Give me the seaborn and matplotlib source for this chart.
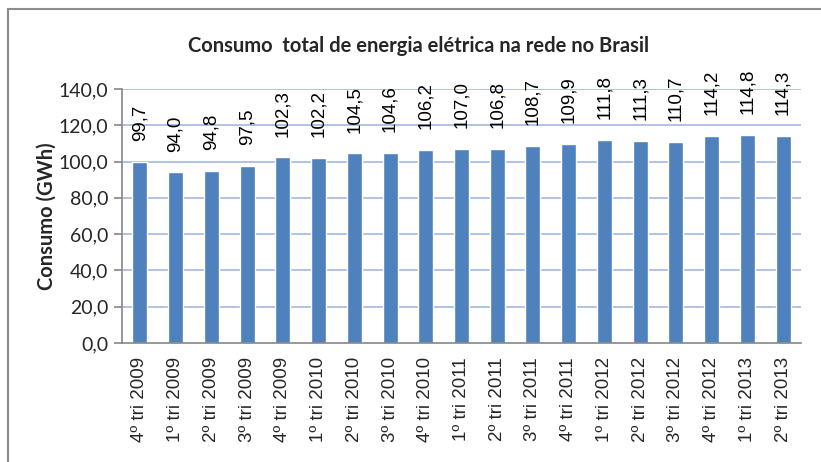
import matplotlib
matplotlib.use("Agg")
import matplotlib.pyplot as plt
import seaborn as sns
import pandas as pd
import numpy as np
from matplotlib.patches import Rectangle

# data
trimestres = ['4º tri 2009', '1º tri 2009', '2º tri 2009', '3º tri 2009', '4º tri 2009',
              '1º tri 2010', '2º tri 2010', '3º tri 2010', '4º tri 2010',
              '1º tri 2011', '2º tri 2011', '3º tri 2011', '4º tri 2011',
              '1º tri 2012', '2º tri 2012', '3º tri 2012', '4º tri 2012',
              '1º tri 2013', '2º tri 2013']
consumo = [99.7, 94.0, 94.8, 97.5, 102.3, 102.2, 104.5, 104.6, 106.2,
           107.0, 106.8, 108.7, 109.9, 111.8, 111.3, 110.7, 114.2, 114.8, 114.3]
yticks = [0, 20, 40, 60, 80, 100, 120, 140]

df = pd.DataFrame({'pos': range(len(trimestres)), 'consumo': consumo})

sns.set_style("white")
plt.rcParams['font.family'] = ['Liberation Sans', 'DejaVu Sans']

fig = plt.figure(figsize=(8.21, 4.62), dpi=100)
ax = fig.add_axes([0.1486, 0.2576, 0.827, 0.5498])

sns.barplot(data=df, x='pos', y='consumo', color='#4F81BD', width=0.42,
            saturation=1, ax=ax, zorder=3)
ax.bar_label(ax.containers[0],
             labels=[f"{v:.1f}".replace('.', ',') for v in consumo],
             rotation=90, padding=15, fontsize=13.5, color='black')

ax.set_xlim(-0.5, len(trimestres) - 0.5)
ax.set_ylim(0, 140)
ax.set_yticks(yticks)
ax.set_yticklabels([f"{v:.1f}".replace('.', ',') for v in yticks],
                   family='Lato', fontsize=14)
ax.set_xticks(range(len(trimestres)))
ax.set_xticklabels(trimestres, rotation=90, fontsize=13.5)
ax.set_xticks(np.arange(-0.5, len(trimestres)), minor=True)
ax.tick_params(axis='x', which='major', length=0, pad=10)
ax.tick_params(axis='x', which='minor', length=6, color='#868686', width=1.2, direction='out')
ax.tick_params(axis='y', length=6, color='#868686', width=1.2, direction='out', left=True, pad=4)

for y in yticks[1:]:
    ax.axhline(y, color='#A9BEE4', lw=1.3, zorder=1)

for s in ['top', 'right']:
    ax.spines[s].set_visible(False)
for s in ['left', 'bottom']:
    ax.spines[s].set_color('#868686')
    ax.spines[s].set_linewidth(1.2)
    ax.spines[s].set_zorder(4)

ax.set_xlabel('')
ax.set_ylabel('Consumo (GWh)', family='Lato', fontsize=14.5, fontweight='bold', labelpad=1)
fig.text(0.51, 0.9, 'Consumo  total de energia elétrica na rede no Brasil',
         family='Lato', fontsize=14.5, fontweight='bold', ha='center', va='center')

# outer chart border
fig.add_artist(Rectangle((8 / 821, -0.1), 1.2, 1.1 - 9 / 462, transform=fig.transFigure,
                         fill=False, edgecolor='#8C8C8C', lw=1.5, clip_on=False))

fig.savefig('out.png', dpi=100)
